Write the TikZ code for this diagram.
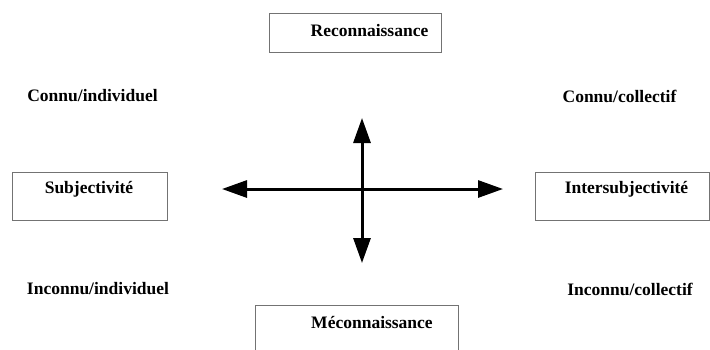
\documentclass[tikz,border=0pt]{standalone}
\usepackage{fontspec}
\setmainfont{Liberation Serif}
\usetikzlibrary{arrows.meta}
\begin{document}
\begin{tikzpicture}[x=1pt,y=-1pt,
  lbl/.style={font=\bfseries\fontsize{17.5}{19}\selectfont, inner sep=0pt},
  boxed/.style={draw=black!55, line width=0.9pt, inner sep=0pt},
  axis/.style={line width=3pt, {Triangle[length=25pt,width=17pt]}-{Triangle[length=25pt,width=17pt]}}]
\useasboundingbox (0,0) rectangle (710,349);
% boxes
\draw[boxed] (269,13) rectangle (441,52);
\draw[boxed] (12,172) rectangle (167,220);
\draw[boxed] (535,172) rectangle (709.5,220);
\draw[boxed] (255,305) rectangle (458,352);
% box texts
\node[lbl] (rec) at (369.5,31) {Reconnaissance};
\node[lbl] (sub) at (89,189) {Subjectivité};
\node[lbl] (inter) at (626.5,189) {Intersubjectivité};
\node[lbl] (mec) at (372,322) {Méconnaissance};
% corner labels
\node[lbl] (ci) at (92.5,96) {Connu/individuel};
\node[lbl] (cc) at (619.5,96) {Connu/collectif};
\node[lbl] (ii) at (98,289) {Inconnu/individuel};
\node[lbl] (ic) at (630,289) {Inconnu/collectif};
% axes
\coordinate (L) at (222,189);
\coordinate (R) at (503,189);
\coordinate (T) at (362,118);
\coordinate (B) at (362,263);
\draw[axis] (L) -- (R);
\draw[axis] (T) -- (B);
\end{tikzpicture}
\end{document}
